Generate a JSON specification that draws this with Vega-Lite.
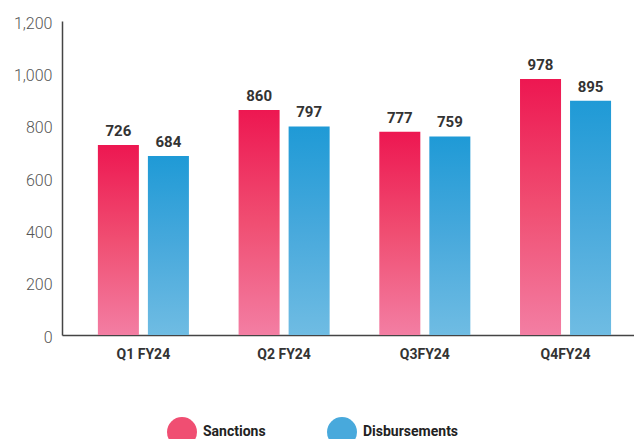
{
  "$schema": "https://vega.github.io/schema/vega-lite/v6.json",
  "width": 572,
  "height": 314,
  "autosize": "none",
  "padding": {"left": 62, "top": 21, "right": 0, "bottom": 104},
  "background": "white",
  "config": {"view": {"stroke": null}, "font": "Roboto"},
  "data": {
    "values": [
      {"quarter": "Q1 FY24", "series": "Sanctions", "value": 726},
      {"quarter": "Q1 FY24", "series": "Disbursements", "value": 684},
      {"quarter": "Q2 FY24", "series": "Sanctions", "value": 860},
      {"quarter": "Q2 FY24", "series": "Disbursements", "value": 797},
      {"quarter": "Q3FY24", "series": "Sanctions", "value": 777},
      {"quarter": "Q3FY24", "series": "Disbursements", "value": 759},
      {"quarter": "Q4FY24", "series": "Sanctions", "value": 978},
      {"quarter": "Q4FY24", "series": "Disbursements", "value": 895}
    ]
  },
  "encoding": {
    "x": {
      "field": "quarter", "type": "nominal", "sort": null,
      "scale": {"paddingInner": 0.353, "paddingOuter": 0.209, "align": 0.61},
      "axis": {"title": null, "ticks": false, "labelAngle": 0, "labelFontSize": 14, "labelFontWeight": "bold", "labelColor": "#333333", "labelPadding": 12, "domainColor": "#444444", "domainWidth": 1.5}
    },
    "xOffset": {
      "field": "series", "type": "nominal", "sort": ["Sanctions", "Disbursements"],
      "scale": {"domain": ["Sanctions", "Disbursements"], "paddingInner": 0.18, "paddingOuter": 0}
    },
    "y": {
      "field": "value", "type": "quantitative",
      "scale": {"domain": [0, 1200]},
      "axis": {"title": null, "ticks": false, "grid": false, "values": [0, 200, 400, 600, 800, 1000, 1200], "labelFontSize": 16, "labelFontWeight": 300, "labelColor": "#555555", "labelPadding": 10, "labelOffset": 2, "domainColor": "#444444", "domainWidth": 1.5, "format": ",d"}
    }
  },
  "layer": [
    {
      "mark": {"type": "bar", "opacity": 0},
      "encoding": {
        "color": {
          "field": "series", "type": "nominal",
          "scale": {"domain": ["Sanctions", "Disbursements"], "range": ["#F04E72", "#48A9DC"]},
          "legend": {
            "title": null, "orient": "none", "direction": "horizontal",
            "legendX": 105, "legendY": 396,
            "symbolType": "circle", "symbolSize": 900, "symbolStrokeWidth": 0, "symbolOpacity": 1,
            "labelFontSize": 14, "labelFontWeight": "bold", "labelColor": "#222222",
            "labelOffset": 6, "columnPadding": 61,
            "encoding": {
              "symbols": {
                "opacity": {"value": 1},
                "fill": {
                  "signal": "datum.value === 'Sanctions' ? {gradient: 'linear', x1: 0, y1: 0, x2: 0, y2: 1, stops: [{offset: 0, color: '#ED1751'}, {offset: 1, color: '#F37EA3'}]} : {gradient: 'linear', x1: 0, y1: 0, x2: 0, y2: 1, stops: [{offset: 0, color: '#1F9AD6'}, {offset: 1, color: '#6FBCE3'}]}"
                }
              }
            }
          }
        }
      }
    },
    {
      "transform": [{"filter": "datum.series === 'Sanctions'"}],
      "mark": {"type": "bar", "color": {"gradient": "linear", "x1": 0, "y1": 0, "x2": 0, "y2": 1, "stops": [{"offset": 0, "color": "#ED1751"}, {"offset": 0.5, "color": "#F04E72"}, {"offset": 1, "color": "#F37EA3"}]}}
    },
    {
      "transform": [{"filter": "datum.series === 'Disbursements'"}],
      "mark": {"type": "bar", "color": {"gradient": "linear", "x1": 0, "y1": 0, "x2": 0, "y2": 1, "stops": [{"offset": 0, "color": "#1F9AD6"}, {"offset": 0.5, "color": "#48A9DC"}, {"offset": 1, "color": "#6FBCE3"}]}}
    },
    {
      "mark": {"type": "text", "baseline": "bottom", "dy": -6, "fontSize": 15, "fontWeight": "bold", "color": "#333333"},
      "encoding": {"text": {"field": "value", "type": "quantitative"}}
    }
  ]
}
